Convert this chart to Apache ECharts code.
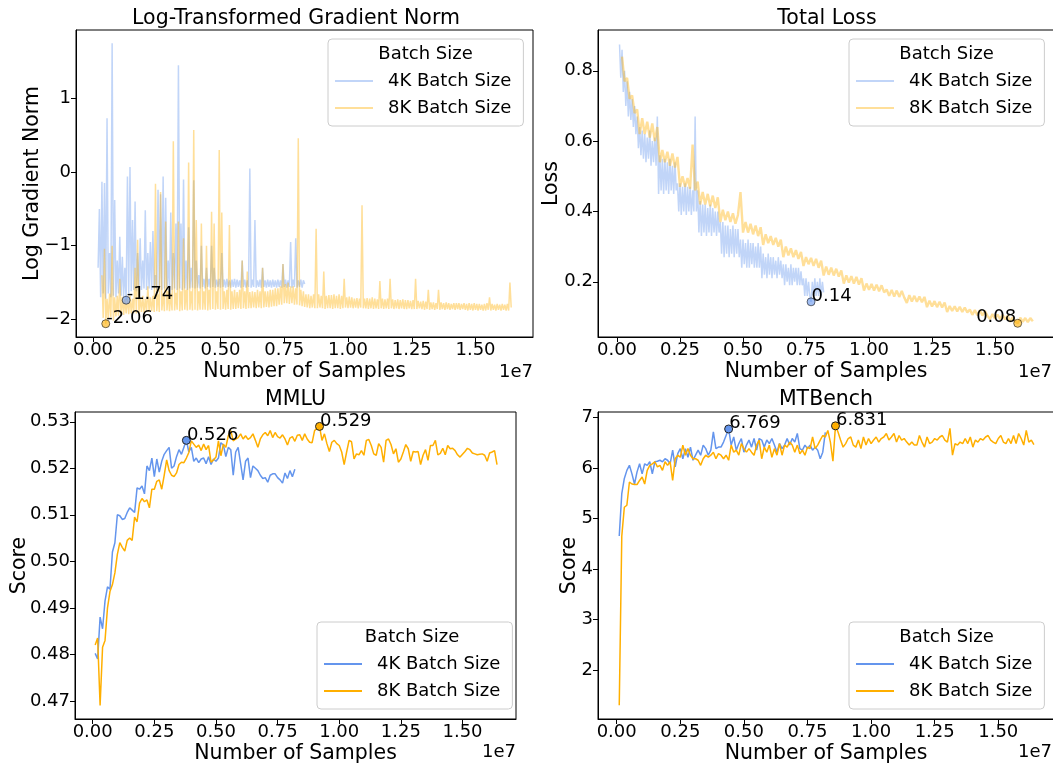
<!DOCTYPE html>
<html>
<head>
<meta charset="utf-8">
<title>Batch size comparison</title>
<script src="https://cdn.jsdelivr.net/npm/echarts@6/dist/echarts.min.js"></script>
<style>
  html, body { margin: 0; padding: 0; background: #fff; }
  #main { width: 1053px; height: 764px; }
</style>
</head>
<body>
<div id="main"></div>
<script>
// x is the number of samples in units of 1e7, each run is logged on a fixed step
const GRAD_4K_X0 = 0.02, GRAD_4K_STEP = 0.005
const GRAD_4K = [
  -1.30,-0.50,-1.70,-0.13,-1.65,-0.15,-1.72,0.73,-1.65,-1.10,
  -1.70,1.75,-1.68,-0.38,-1.70,-1.20,-1.65,-0.88,-1.68,-1.15,
  -1.70,-1.30,-1.74,-0.06,-1.65,0.07,-1.62,-0.65,-1.60,-0.40,
  -1.62,-1.10,-1.58,-0.90,-1.60,-1.20,-1.58,-0.52,-1.60,-1.10,
  -1.58,-0.95,-1.60,-0.80,-1.58,-1.40,-1.60,-0.24,-1.58,-0.30,
  -1.60,-0.06,-1.58,-0.35,-1.60,-1.20,-1.58,-0.55,-1.60,-1.10,
  -1.58,-0.70,-1.60,1.45,-1.58,-0.70,-1.60,-0.10,-1.58,-1.20,
  -1.60,-0.75,-1.58,-1.30,-1.57,-0.11,-1.58,-1.20,-1.57,-1.40,
  -1.58,-1.00,-1.56,-1.45,-1.58,-1.30,-1.56,-1.45,-1.57,-1.00,
  -1.56,-1.30,-1.57,-1.46,-1.56,-1.45,-1.57,-1.10,-1.56,-1.46,
  -1.57,-1.45,-1.56,-1.47,-1.57,-1.46,-1.56,-1.45,-1.57,-1.46,
  -1.56,-1.47,-1.57,-1.20,-1.56,-1.46,-1.57,-1.47,-1.56,0.05,
  -1.57,-1.46,-1.56,-0.65,-1.57,-1.47,-1.56,-1.46,-1.57,-1.30,
  -1.56,-1.47,-1.57,-1.46,-1.56,-1.47,-1.57,-1.46,-1.56,-1.47,
  -1.57,-1.46,-1.56,-1.47,-1.57,-1.25,-1.56,-1.46,-1.57,-1.47,
  -1.56,-0.95,-1.57,-1.46,-1.56,-0.90,-1.57,-1.47,-1.56,-1.46,
  -1.57,-1.47,-1.52
]
const GRAD_8K_X0 = 0.035, GRAD_8K_STEP = 0.005
const GRAD_8K = [
  -1.40,-1.98,-1.04,-2.06,-1.72,-2.00,-1.65,-1.97,-1.00,-2.02,-1.70,-1.96,-1.68,-1.95,-1.45,-1.93,-1.70,-1.94,-1.72,-1.92,
  -1.70,-1.93,-1.68,-1.92,-1.72,-1.91,-1.30,-1.92,-0.92,-1.91,-1.70,-1.90,-1.68,-1.91,-1.72,-1.90,-1.55,-1.90,-1.70,-1.89,
  -1.68,-1.90,-0.16,-1.89,-1.66,-1.90,-0.27,-1.88,-1.65,-1.89,-0.67,-1.88,-1.62,-1.89,-1.65,-1.88,0.42,-1.88,-1.64,-1.87,
  -0.67,-1.89,-1.62,-1.88,-0.90,-1.87,-1.60,-1.88,0.13,-1.87,-1.62,-1.88,0.57,-1.87,-0.65,-1.88,-1.62,-1.87,-0.70,-1.87,
  -1.62,-1.87,-1.00,-1.88,-1.60,-1.87,-0.54,-1.86,-0.70,-1.87,-1.62,-1.86,0.30,-1.87,-0.55,-1.86,-1.62,-1.87,-1.60,-1.86,
  -0.72,-1.87,-1.62,-1.86,-1.60,-1.86,-1.63,-1.85,-1.60,-1.86,-1.20,-1.85,-1.62,-1.86,-1.35,-1.85,-1.63,-1.85,-1.62,-1.84,
  -1.63,-1.85,-1.60,-1.84,-1.62,-1.85,-1.30,-1.84,-1.62,-1.83,-1.62,-1.84,-1.60,-1.83,-1.60,-1.82,-1.58,-1.82,-1.58,-1.80,
  -1.55,-1.80,-1.25,-1.78,-1.52,-1.78,-1.50,-1.79,-1.55,-1.78,-1.55,-1.80,-1.58,-1.80,0.46,-1.81,-1.60,-1.82,-1.62,-1.83,
  -1.66,-1.84,-1.66,-1.85,-1.68,-1.84,-1.66,-1.85,-0.77,-1.85,-1.66,-1.84,-1.68,-1.85,-1.35,-1.86,-1.68,-1.85,-1.67,-1.85,
  -1.67,-1.86,-1.66,-1.85,-1.68,-1.85,-1.66,-1.86,-1.68,-1.85,-1.45,-1.84,-1.70,-1.85,-1.69,-1.84,-1.70,-1.85,-1.72,-1.84,
  -1.71,-1.85,-1.72,-1.84,-0.45,-1.85,-1.72,-1.85,-1.71,-1.86,-1.72,-1.85,-1.70,-1.86,-1.72,-1.85,-1.73,-1.86,-1.48,-1.85,
  -1.72,-1.86,-1.73,-1.85,-1.72,-1.86,-1.45,-1.85,-1.73,-1.86,-1.74,-1.85,-1.73,-1.86,-1.74,-1.85,-1.73,-1.86,-1.74,-1.86,
  -1.74,-1.85,-1.75,-1.86,-1.74,-1.86,-1.45,-1.86,-1.75,-1.85,-1.76,-1.86,-1.75,-1.87,-1.76,-1.86,-1.60,-1.87,-1.77,-1.86,
  -1.77,-1.87,-1.78,-1.86,-1.60,-1.87,-1.77,-1.86,-1.78,-1.87,-1.77,-1.86,-1.78,-1.87,-1.79,-1.86,-1.78,-1.87,-1.78,-1.86,
  -1.78,-1.87,-1.79,-1.86,-1.78,-1.87,-1.79,-1.88,-1.78,-1.87,-1.79,-1.88,-1.78,-1.87,-1.79,-1.88,-1.79,-1.87,-1.80,-1.88,
  -1.79,-1.88,-1.78,-1.87,-1.70,-1.88,-1.79,-1.87,-1.80,-1.88,-1.79,-1.87,-1.80,-1.88,-1.79,-1.87,-1.80,-1.88,-1.79,-1.88,
  -1.50,-1.84
]
const LOSS_4K_X0 = 0.01, LOSS_4K_STEP = 0.005
const LOSS_4K = [
  0.875,0.78,0.86,0.74,0.80,0.70,0.77,0.67,0.74,0.66,
  0.72,0.64,0.70,0.62,0.67,0.58,0.64,0.56,0.63,0.55,
  0.62,0.54,0.61,0.55,0.63,0.53,0.60,0.54,0.61,0.53,
  0.67,0.45,0.56,0.46,0.55,0.45,0.55,0.46,0.54,0.45,
  0.55,0.46,0.53,0.45,0.54,0.46,0.48,0.40,0.48,0.39,
  0.47,0.40,0.48,0.39,0.47,0.40,0.47,0.39,0.46,0.40,
  0.67,0.40,0.46,0.34,0.43,0.33,0.42,0.34,0.42,0.33,
  0.41,0.34,0.42,0.33,0.41,0.34,0.40,0.33,0.40,0.34,
  0.37,0.28,0.37,0.27,0.36,0.28,0.36,0.27,0.35,0.28,
  0.36,0.27,0.35,0.28,0.35,0.27,0.32,0.24,0.32,0.25,
  0.31,0.24,0.32,0.24,0.31,0.25,0.31,0.24,0.30,0.24,
  0.31,0.24,0.30,0.21,0.28,0.22,0.27,0.21,0.28,0.22,
  0.27,0.21,0.27,0.22,0.26,0.21,0.27,0.22,0.26,0.21,
  0.25,0.19,0.25,0.20,0.24,0.19,0.25,0.19,0.24,0.20,
  0.24,0.19,0.24,0.19,0.23,0.19,0.21,0.16,0.21,0.16,
  0.20,0.16,0.143,0.20,0.16,0.21,0.16,0.20,0.16,0.21,
  0.16,0.20,0.17
]
const LOSS_8K_X0 = 0.02, LOSS_8K_STEP = 0.01
const LOSS_8K = [
  0.84,0.77,0.78,0.72,0.73,0.68,0.69,0.62,0.665,0.62,
  0.655,0.61,0.65,0.60,0.64,0.54,0.575,0.54,0.57,0.53,
  0.565,0.525,0.555,0.47,0.50,0.47,0.495,0.465,0.59,0.46,
  0.485,0.42,0.455,0.42,0.45,0.415,0.445,0.41,0.44,0.37,
  0.405,0.375,0.40,0.37,0.395,0.365,0.39,0.455,0.34,0.37,
  0.34,0.365,0.335,0.36,0.33,0.355,0.305,0.335,0.31,0.33,
  0.305,0.325,0.30,0.32,0.27,0.30,0.275,0.295,0.27,0.29,
  0.265,0.285,0.245,0.27,0.25,0.268,0.245,0.265,0.24,0.26,
  0.218,0.243,0.22,0.24,0.218,0.237,0.215,0.232,0.195,0.218,
  0.198,0.216,0.195,0.214,0.192,0.21,0.175,0.195,0.177,0.194,
  0.175,0.192,0.173,0.19,0.17,0.178,0.16,0.177,0.158,0.175,
  0.157,0.174,0.155,0.14,0.162,0.144,0.16,0.143,0.158,0.142,
  0.157,0.128,0.146,0.13,0.145,0.128,0.143,0.127,0.141,0.114,
  0.131,0.117,0.13,0.116,0.129,0.114,0.127,0.113,0.121,0.106,
  0.12,0.105,0.119,0.104,0.117,0.103,0.094,0.108,0.095,0.107,
  0.094,0.106,0.093,0.104,0.086,0.099,0.087,0.082,0.098,0.086,
  0.097,0.085,0.097,0.088
]
const EVAL_X0 = 0.01, EVAL_STEP = 0.01
const MMLU_4K = [
  0.4802,0.4790,0.4880,0.4855,0.4915,0.4945,0.4940,0.5020,0.5040,0.5100,
  0.5098,0.5090,0.5092,0.5105,0.5115,0.5110,0.5105,0.5158,0.5155,0.5162,
  0.5145,0.5205,0.5195,0.5222,0.5182,0.5220,0.5192,0.5215,0.5230,0.5238,
  0.5245,0.5200,0.5205,0.5225,0.5240,0.5230,0.5245,0.5260,0.5235,0.5245,
  0.5215,0.5222,0.5212,0.5220,0.5222,0.5210,0.5225,0.5208,0.5220,0.5215,
  0.5222,0.5255,0.5250,0.5225,0.5245,0.5240,0.5185,0.5235,0.5245,0.5210,
  0.5175,0.5215,0.5222,0.5180,0.5205,0.5200,0.5195,0.5185,0.5178,0.5180,
  0.5170,0.5185,0.5188,0.5188,0.5180,0.5175,0.5168,0.5190,0.5178,0.5195,
  0.5182,0.5198
]
const MMLU_8K = [
  0.4820,0.4835,0.4690,0.4815,0.4830,0.4900,0.4935,0.4950,0.4975,0.5015,
  0.5040,0.5030,0.5022,0.5045,0.5050,0.5045,0.5095,0.5085,0.5125,0.5135,
  0.5128,0.5132,0.5115,0.5155,0.5155,0.5172,0.5175,0.5155,0.5185,0.5218,
  0.5195,0.5185,0.5182,0.5190,0.5208,0.5213,0.5212,0.5222,0.5234,0.5259,
  0.5252,0.5245,0.5250,0.5238,0.5252,0.5240,0.5249,0.5213,0.5218,0.5224,
  0.5259,0.5227,0.5252,0.5245,0.5270,0.5281,0.5259,0.5263,0.5266,0.5274,
  0.5263,0.5270,0.5262,0.5266,0.5274,0.5260,0.5245,0.5263,0.5272,0.5277,
  0.5270,0.5281,0.5266,0.5277,0.5268,0.5265,0.5272,0.5263,0.5250,0.5265,
  0.5268,0.5258,0.5271,
  0.5272,0.5260,0.5274,0.5263,0.5256,0.5255,0.5281,0.5286,0.5290,0.5260,
  0.5274,0.5253,0.5236,0.5256,0.5260,0.5253,0.5249,0.5235,0.5208,0.5235,
  0.5260,0.5257,0.5220,0.5231,0.5229,0.5238,0.5228,0.5260,0.5262,0.5249,
  0.5231,0.5228,0.5253,0.5245,0.5213,0.5260,0.5263,0.5251,0.5231,0.5242,
  0.5213,0.5220,0.5235,0.5251,0.5242,0.5215,0.5236,0.5235,
  0.5236,0.5208,0.5228,0.5240,0.5217,0.5249,0.5249,0.5260,0.5229,
  0.5232,0.5243,0.5229,0.5249,0.5242,0.5243,0.5238,0.5229,0.5224,0.5230,
  0.5236,0.5243,0.5240,0.5233,0.5231,0.5229,0.5230,0.5231,0.5228,0.5215,
  0.5233,0.5235,0.5238,0.5208
]
const MTB_4K = [
  4.65,5.49,5.79,5.95,6.05,5.88,5.68,5.92,6.08,5.88,
  6.08,6.05,6.12,5.88,6.12,6.13,6.15,6.12,6.18,6.15,
  6.08,6.35,6.02,6.28,6.38,6.18,6.38,6.21,6.41,6.15,
  6.25,6.35,6.25,6.45,6.38,6.25,6.35,6.71,6.38,6.41,
  6.41,6.51,6.64,6.769,6.45,6.61,6.35,6.48,6.58,6.31,
  6.45,6.55,6.41,6.58,6.35,6.58,6.55,6.41,6.55,6.48,
  6.58,6.45,6.31,6.48,6.38,6.45,6.58,6.45,6.58,6.51,
  6.68,6.38,6.35,6.45,6.38,6.45,6.35,6.41,6.35,6.18,
  6.31,6.70
]
const MTB_8K = [
  1.30,4.65,5.22,5.26,5.72,5.68,5.67,5.67,5.75,5.82,
  5.68,5.95,6.05,6.08,6.12,6.02,6.05,5.95,6.12,6.05,
  6.12,5.75,6.18,6.25,6.21,6.45,6.25,6.38,6.25,6.18,
  6.18,6.15,6.05,6.18,6.25,6.21,6.25,6.31,6.18,6.28,
  6.25,6.18,6.25,6.15,6.45,6.31,6.35,6.25,6.48,6.38,
  6.31,6.38,6.31,6.25,6.45,6.55,6.18,6.41,6.31,6.45,
  6.21,6.38,6.25,6.48,6.25,6.45,6.41,6.51,6.45,6.31,
  6.45,6.28,6.35,6.25,6.41,6.38,6.61,6.38,6.45,6.55,
  6.64,6.61,6.74,6.51,6.13,6.831,
  6.71,6.55,6.41,6.48,6.58,6.61,6.45,6.41,6.55,
  6.38,6.61,6.45,6.58,6.48,6.55,6.61,6.51,6.58,6.61,
  6.68,6.55,6.61,6.68,6.51,6.64,6.55,6.58,6.51,6.45,
  6.51,6.45,6.45,6.64,6.51,6.41,6.61,6.48,6.51,
  6.58,6.55,6.61,6.64,6.55,6.51,6.78,6.25,6.48,6.45,
  6.51,6.48,6.58,6.48,6.61,6.41,6.55,6.51,6.58,6.55,
  6.61,6.64,6.55,6.51,6.48,6.58,6.64,6.51,6.48,6.58,
  6.48,6.64,6.48,6.68,6.58,6.45,6.74,6.51,6.55,6.46
]
const X_TICKS = [0, 0.25, 0.5, 0.75, 1, 1.25, 1.5]
const GRAD_TICKS = [-2, -1, 0, 1]
const LOSS_TICKS = [0.2, 0.4, 0.6, 0.8]
const MMLU_TICKS = [0.47, 0.48, 0.49, 0.50, 0.51, 0.52, 0.53]
const MTB_TICKS = [2, 3, 4, 5, 6, 7]

const FONT = '"DejaVu Sans", sans-serif'
const BLUE = '#6495ED'
const ORANGE = '#FFAF00'
const FADE = 0.4

function pairs(values, x0, step) {
  return values.map((v, i) => [+(x0 + i * step).toFixed(4), v])
}

function grid(left, top, width) {
  return { left, top, width, height: 307, show: true, borderColor: '#000', borderWidth: 1,
    containLabel: false, outerBoundsMode: 'none' }
}

function xAxis(gi, min, max) {
  return {
    type: 'value', gridIndex: gi, min, max,
    name: 'Number of Samples', nameLocation: 'middle', nameGap: 24, nameMoveOverlap: false,
    nameTextStyle: { fontSize: 20.5, fontFamily: FONT, color: '#000' },
    axisLine: { show: true, onZero: false, lineStyle: { color: '#000', width: 1 } },
    axisTick: { show: true, length: 5, customValues: X_TICKS, lineStyle: { color: '#000', width: 1 } },
    axisLabel: { customValues: X_TICKS, margin: 4, fontSize: 18, fontFamily: FONT, color: '#000',
      formatter: v => v.toFixed(2) },
    splitLine: { show: false }
  }
}

function yAxis(gi, min, max, ticks, fmt, name, gap) {
  return {
    type: 'value', gridIndex: gi, min, max,
    name, nameLocation: 'middle', nameGap: gap, nameMoveOverlap: false,
    nameTextStyle: { fontSize: 20.5, fontFamily: FONT, color: '#000' },
    axisLine: { show: true, onZero: false, lineStyle: { color: '#000', width: 1 } },
    axisTick: { show: true, length: 5, customValues: ticks, lineStyle: { color: '#000', width: 1 } },
    axisLabel: { customValues: ticks, margin: 5, fontSize: 18, fontFamily: FONT, color: '#000', formatter: fmt },
    splitLine: { show: false }
  }
}

// one line per run, the annotated point is the run's best value found by markPoint
function run(name, gi, data, color, alpha, width, best, digits, align) {
  const faded = alpha < 1
  return {
    name, type: 'line', xAxisIndex: gi, yAxisIndex: gi, data,
    symbol: 'none', silent: true, animation: false,
    lineStyle: { color, width, opacity: alpha },
    itemStyle: { color },
    markPoint: {
      symbol: 'circle', symbolSize: 8, silent: true, animation: false, z: 10,
      data: [{ type: best, valueDim: 'y' }],
      itemStyle: {
        color: faded ? echarts.color.modifyAlpha(color, 0.6) : color,
        borderColor: faded ? 'rgba(0,0,0,0.55)' : '#222', borderWidth: 1
      },
      label: {
        show: true, position: align === 'right' ? [3, 8] : [5, 8], align: align || 'left',
        verticalAlign: 'bottom', color: '#000', fontSize: 18, fontFamily: FONT,
        formatter: p => p.value.toFixed(digits)
      }
    }
  }
}

function legend(left, top, alpha) {
  return {
    orient: 'vertical', left, top, padding: [32, 12, 8, 7], itemGap: 7,
    itemWidth: 38, itemHeight: 2, icon: 'rect', selectedMode: false,
    backgroundColor: 'rgba(255,255,255,0.8)', borderColor: '#cccccc', borderWidth: 1, borderRadius: 4,
    textStyle: { fontSize: 18, fontFamily: FONT, color: '#000', lineHeight: 20, padding: [0, 0, 0, 10] },
    data: [
      { name: '4K Batch Size', icon: 'rect', itemStyle: { color: BLUE, opacity: alpha, borderWidth: 0 } },
      { name: '8K Batch Size', icon: 'rect', itemStyle: { color: ORANGE, opacity: alpha, borderWidth: 0 } }
    ]
  }
}

function text(str, x, y, size, align) {
  return {
    type: 'text', x, y, silent: true, z: 20,
    style: { text: str, fontSize: size, fontFamily: FONT, fill: '#000',
      align: align || 'center', verticalAlign: 'middle',
      textAlign: align || 'center', textVerticalAlign: 'middle' }
  }
}

const minus = v => String(v).replace('-', '\u2212')

const chart = echarts.init(document.getElementById('main'))
chart.setOption({
  animation: false,
  textStyle: { fontFamily: FONT },
  grid: [grid(76, 30, 457), grid(598, 30, 456), grid(75, 412, 441), grid(598, 412, 456)],
  xAxis: [
    xAxis(0, -0.0667, 1.7255),
    xAxis(1, -0.0754, 1.734),
    xAxis(2, -0.0718, 1.717),
    xAxis(3, -0.0735, 1.719)
  ],
  yAxis: [
    yAxis(0, -2.24, 1.93, GRAD_TICKS, minus, 'Log Gradient Norm', 33),
    yAxis(1, 0.043, 0.916, LOSS_TICKS, v => v.toFixed(1), 'Loss', 36),
    yAxis(2, 0.4661, 0.5321, MMLU_TICKS, v => v.toFixed(2), 'Score', 45),
    yAxis(3, 1.03, 7.105, MTB_TICKS, v => String(v), 'Score', 18)
  ],
  legend: [legend(328, 39, FADE), legend(849, 39, FADE), legend(317, 622, 1), legend(849, 622, 1)],
  series: [
    run('4K Batch Size', 0, pairs(GRAD_4K, GRAD_4K_X0, GRAD_4K_STEP), BLUE, FADE, 1.5, 'min', 2),
    run('8K Batch Size', 0, pairs(GRAD_8K, GRAD_8K_X0, GRAD_8K_STEP), ORANGE, FADE, 1.5, 'min', 2),
    run('4K Batch Size', 1, pairs(LOSS_4K, LOSS_4K_X0, LOSS_4K_STEP), BLUE, FADE, 1.5, 'min', 2),
    run('8K Batch Size', 1, pairs(LOSS_8K, LOSS_8K_X0, LOSS_8K_STEP), ORANGE, FADE, 2.4, 'min', 2, 'right'),
    run('4K Batch Size', 2, pairs(MMLU_4K, EVAL_X0, EVAL_STEP), BLUE, 1, 1.5, 'max', 3),
    run('8K Batch Size', 2, pairs(MMLU_8K, EVAL_X0, EVAL_STEP), ORANGE, 1, 1.5, 'max', 3),
    run('4K Batch Size', 3, pairs(MTB_4K, EVAL_X0, EVAL_STEP), BLUE, 1, 1.5, 'max', 3),
    run('8K Batch Size', 3, pairs(MTB_8K, EVAL_X0, EVAL_STEP), ORANGE, 1, 1.5, 'max', 3)
  ],
  graphic: [
    text('Log-Transformed Gradient Norm', 296, 18.5, 20.5),
    text('Total Loss', 827, 18.5, 20.5),
    text('MMLU', 295.5, 400, 20.5),
    text('MTBench', 826, 400, 20.5),
    text('1e7', 533, 372, 18, 'right'),
    text('1e7', 1052, 372, 18, 'right'),
    text('1e7', 516, 752, 18, 'right'),
    text('1e7', 1052, 752, 18, 'right'),
    text('Batch Size', 425.5, 54.5, 18),
    text('Batch Size', 946.5, 54.5, 18),
    text('Batch Size', 412, 637.5, 18),
    text('Batch Size', 946.5, 637.5, 18)
  ]
})
</script>
</body>
</html>
